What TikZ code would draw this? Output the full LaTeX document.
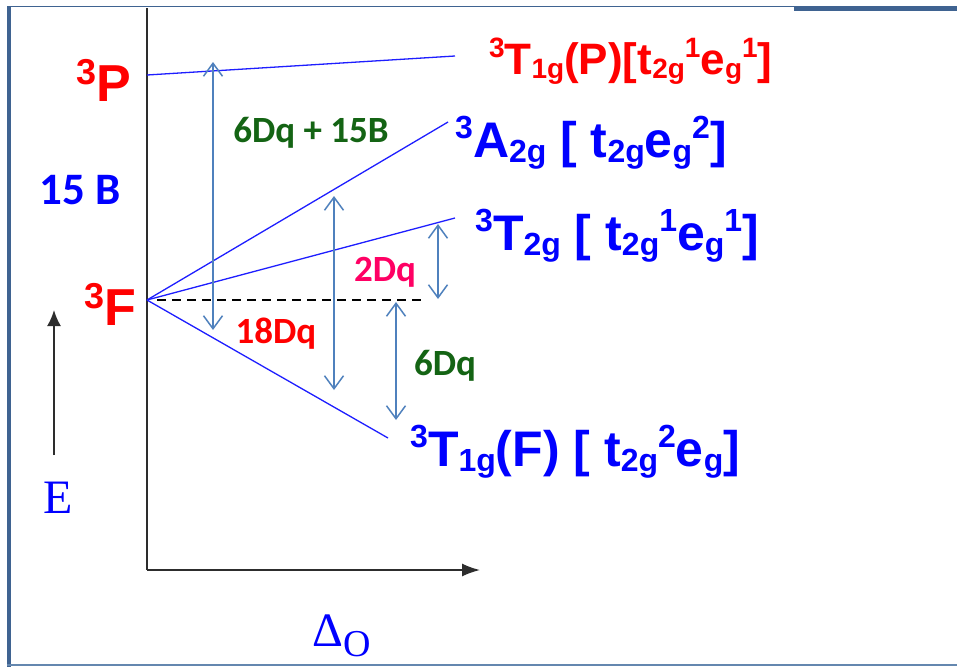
\documentclass[tikz,border=0pt]{standalone}
\usepackage{fontspec}
\setmainfont{Liberation Sans}
\newfontfamily\calfont{Carlito}
\newfontfamily\serfont{Liberation Serif}
\usetikzlibrary{arrows.meta}
\definecolor{frameblue}{RGB}{63,99,145}
\definecolor{framelight}{RGB}{100,135,175}
\definecolor{arrowblue}{RGB}{79,129,189}
\definecolor{lineblue}{RGB}{30,30,255}
\definecolor{dgreen}{RGB}{20,100,20}
\definecolor{pinkred}{RGB}{255,0,100}
\definecolor{axisgray}{RGB}{45,45,45}
\newcommand{\bsub}[1]{\raisebox{-5pt}{\fontsize{32}{32}\selectfont #1}}
\newcommand{\bsup}[1]{\raisebox{19pt}{\fontsize{32}{32}\selectfont #1}}
\newcommand{\rsub}[1]{\raisebox{-4pt}{\fontsize{28}{28}\selectfont #1}}
\newcommand{\rsup}[1]{\raisebox{17pt}{\fontsize{28}{28}\selectfont #1}}
\newcommand{\tsup}[1]{\raisebox{17pt}{\fontsize{36}{36}\selectfont #1}}
\tikzset{
  level/.style={lineblue, line width=1.3pt},
  dbl/.style={arrowblue, line width=1.5pt,
    {Straight Barb[length=13pt,width=19pt,line width=1.5pt]}-{Straight Barb[length=13pt,width=19pt,line width=1.5pt]}},
  axis/.style={axisgray, line width=1.6pt},
  rlabel/.style={anchor=base west, inner sep=0pt, text=red, font=\bfseries\fontsize{44}{44}\selectfont},
  blabel/.style={anchor=base west, inner sep=0pt, text=blue, font=\bfseries\fontsize{50}{50}\selectfont},
  term/.style={anchor=base east, inner sep=0pt, text=red, font=\bfseries\fontsize{52}{52}\selectfont},
  qlabel/.style={inner sep=0pt, font=\calfont\bfseries\fontsize{37}{37}\selectfont},
}
\begin{document}
\begin{tikzpicture}[x=1pt,y=-1pt]
\useasboundingbox (0,0) rectangle (957,667);
% frame
\fill[white] (0,0) rectangle (957,667);
\draw[frameblue, line width=1.5pt] (7,6.5) -- (795,6.5);
\fill[frameblue] (794,5.5) rectangle (957,11);
\fill[frameblue] (7,6) rectangle (11,667);
\draw[framelight, line width=1.5pt] (7,665) -- (957,665);
% axes
\coordinate (ytop) at (147,8);
\coordinate (orig) at (147,570);
\coordinate (xend) at (480,570);
\draw[axis] (ytop) -- (orig);
\draw[axis, -{Latex[length=18pt,width=13pt]}] (orig) -- (xend);
\coordinate (Ebot) at (54,455);
\coordinate (Etop) at (54,310);
\draw[axis, line width=2pt, -{Latex[length=16pt,width=14pt]}] (Ebot) -- (Etop);
\node[inner sep=0pt, text=blue, font=\serfont\fontsize{48}{48}\selectfont] (E) at (58,498) {E};
\node[anchor=base west, inner sep=0pt, text=blue, font=\serfont\fontsize{48}{48}\selectfont] (delta) at (312,646) {Δ\raisebox{-10pt}{\fontsize{38}{38}\selectfont O}};
% levels
\coordinate (P0) at (147,75);
\coordinate (P1) at (455,56);
\coordinate (F0) at (147,300);
\coordinate (A1) at (448,122);
\coordinate (T21) at (455,218);
\coordinate (T11) at (388,438);
\coordinate (D1) at (425,300);
\draw[level] (P0) -- (P1);
\draw[level] (F0) -- (A1);
\draw[level] (F0) -- (T21);
\draw[level] (F0) -- (T11);
\draw[black, line width=1.3pt, dash pattern=on 9pt off 6pt] (F0) ++(10,0) coordinate (D0) (D0) -- (D1);
% double arrows
\coordinate (a1t) at (213,62);
\coordinate (a1b) at (213,330);
\coordinate (a2t) at (334,196);
\coordinate (a2b) at (334,390);
\coordinate (a3t) at (438,224);
\coordinate (a3b) at (438,299);
\coordinate (a4t) at (396,302);
\coordinate (a4b) at (396,420);
\draw[dbl] (a1t) -- (a1b);
\draw[dbl] (a2t) -- (a2b);
\draw[dbl] (a3t) -- (a3b);
\draw[dbl] (a4t) -- (a4b);
% term labels
\node[term] (tP) at (131,101) {\tsup{3}P};
\node[term] (tF) at (136,325) {\tsup{3}F};
\node[qlabel, text=blue, font=\calfont\bfseries\fontsize{45}{45}\selectfont] (B15) at (80,190) {15 B};
% splitting labels
\node[qlabel, text=dgreen] (l1) at (311,133) {6Dq + 15B};
\node[qlabel, text=red] (l2) at (276,334) {18Dq};
\node[qlabel, text=pinkred] (l3) at (385,272) {2Dq};
\node[qlabel, text=dgreen] (l4) at (445,366) {6Dq};
% state labels
\node[rlabel] (sP) at (489,74) {\rsup{3}T\rsub{1g}(P)[t\rsub{2g}\rsup{1}e\rsub{g}\rsup{1}]};
\node[blabel] (sA) at (455,157) {\bsup{3}A\bsub{2g} [ t\bsub{2g}e\bsub{g}\bsup{2}]};
\node[blabel] (sT2) at (475,250) {\bsup{3}T\bsub{2g} [ t\bsub{2g}\bsup{1}e\bsub{g}\bsup{1}]};
\node[blabel] (sT1) at (410,466) {\bsup{3}T\bsub{1g}(F) [ t\bsub{2g}\bsup{2}e\bsub{g}]};
\end{tikzpicture}
\end{document}
